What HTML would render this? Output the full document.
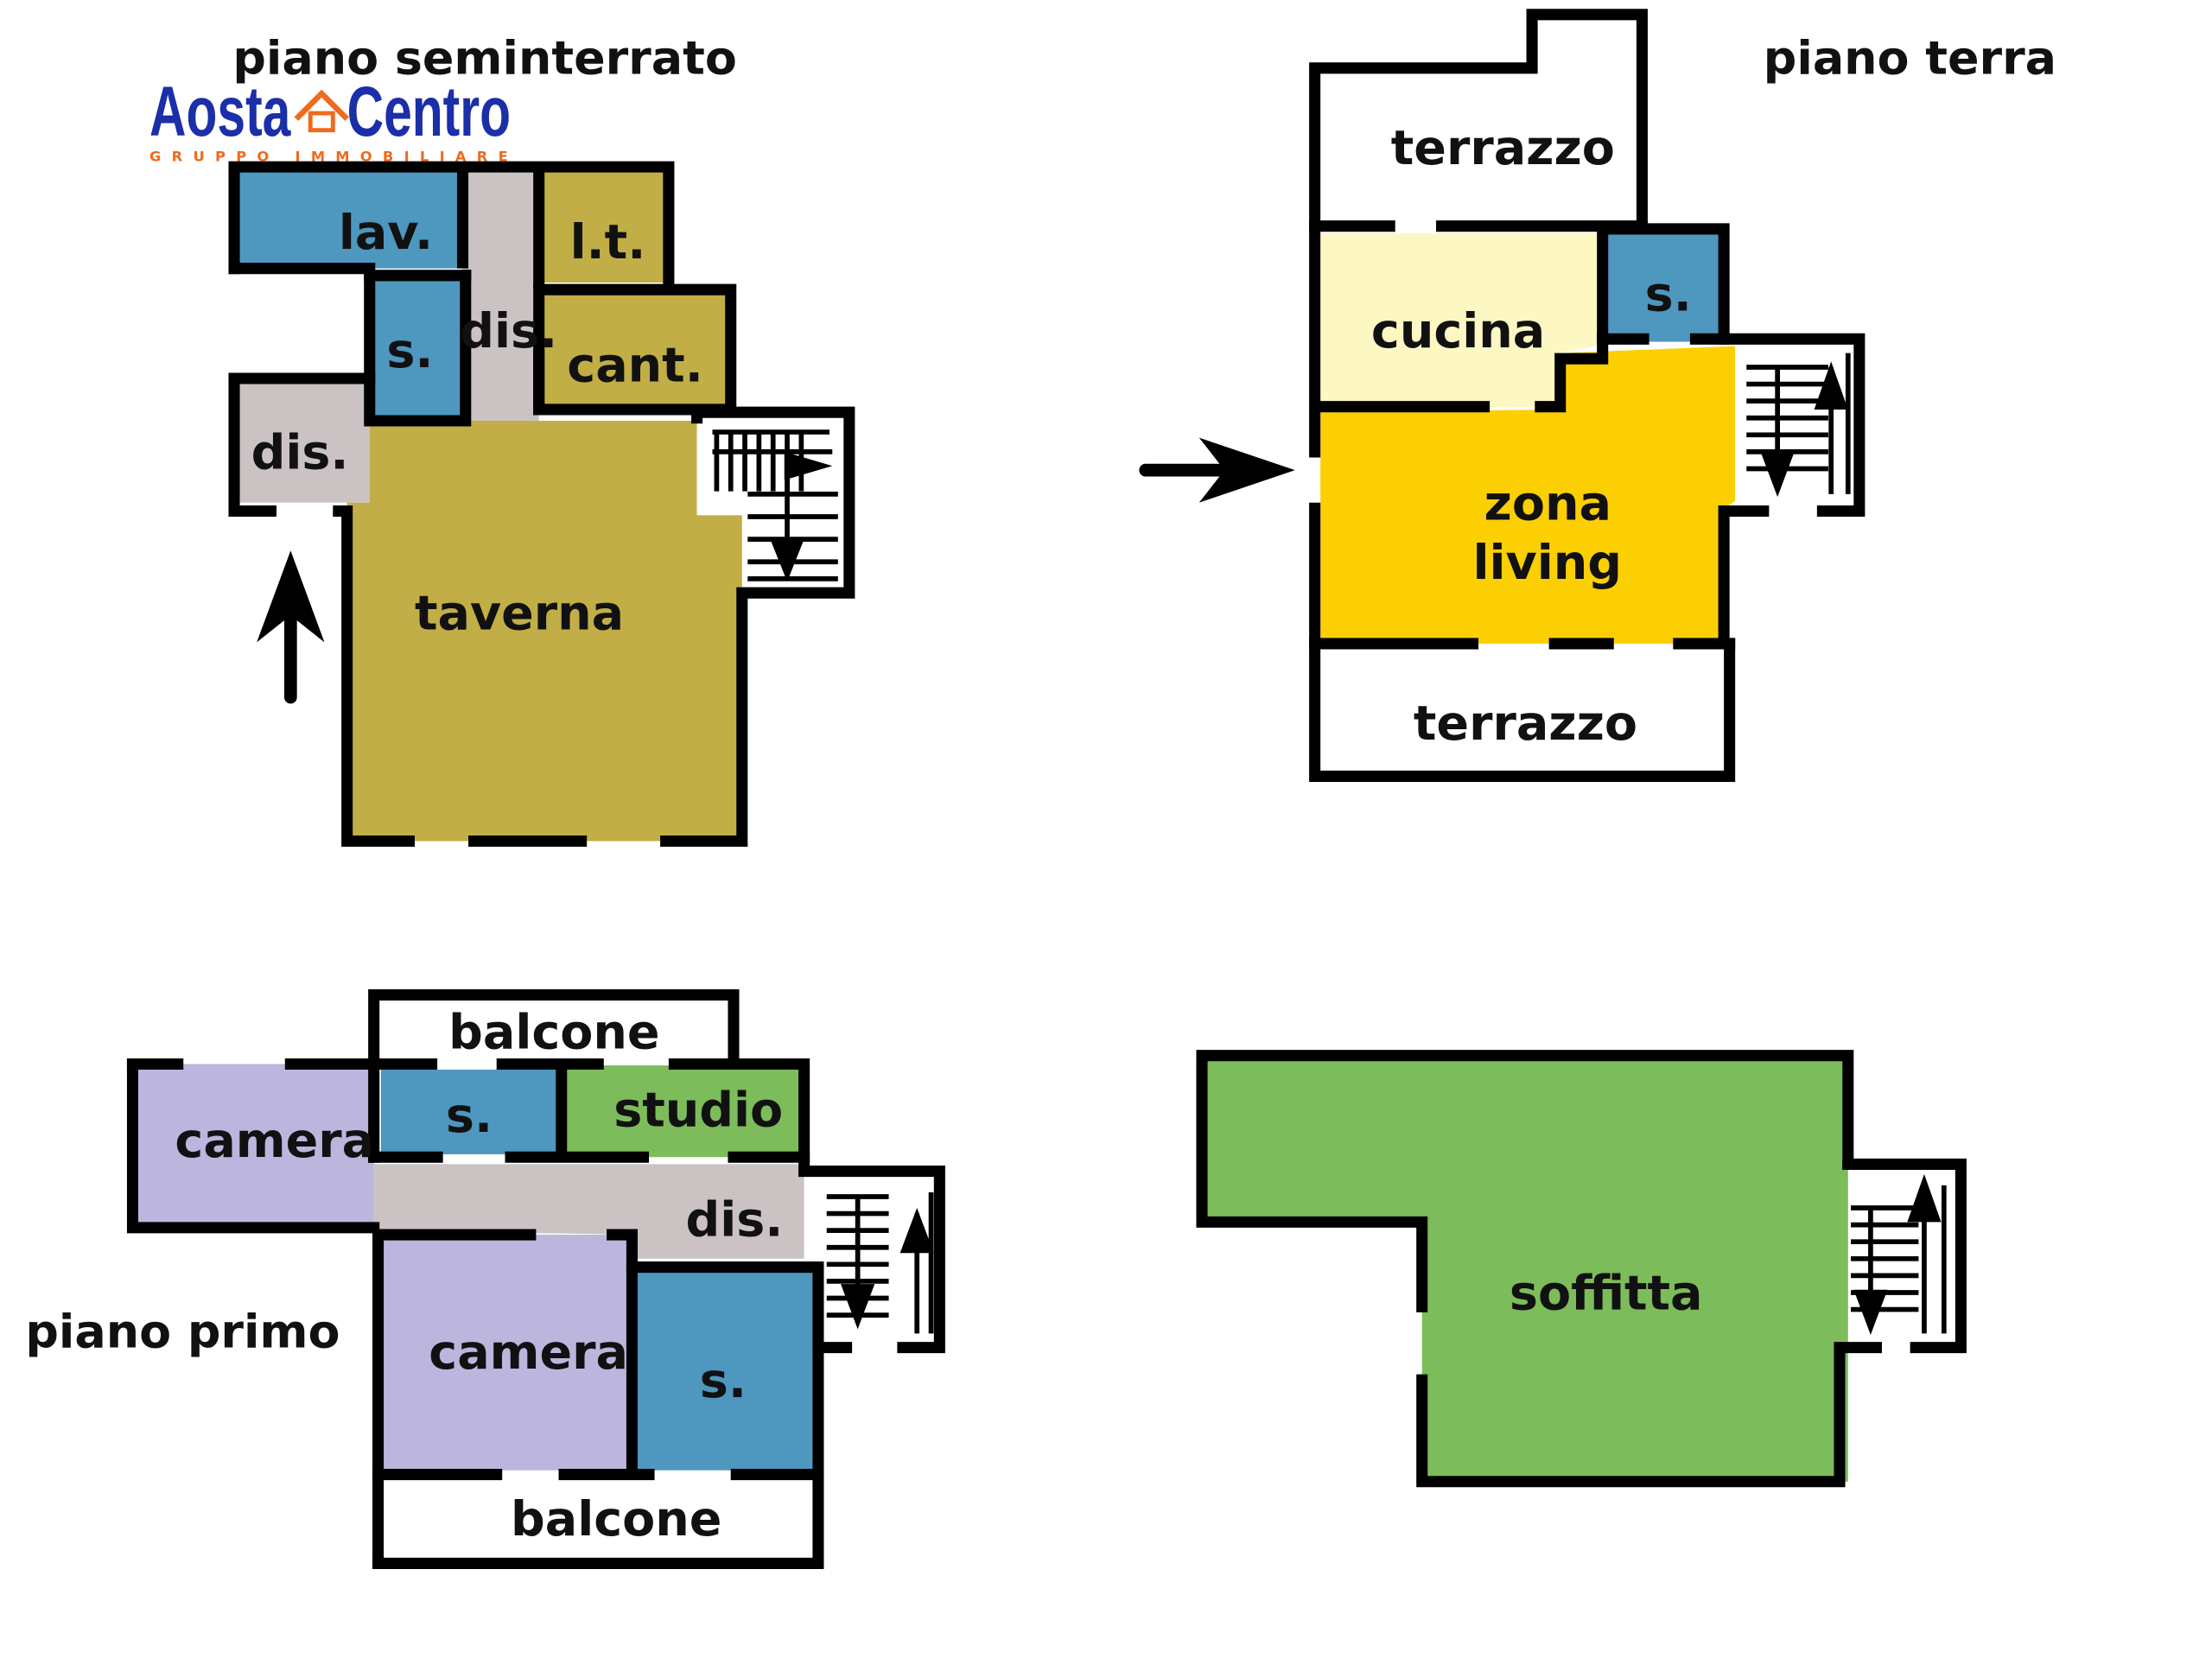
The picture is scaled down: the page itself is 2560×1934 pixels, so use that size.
<!DOCTYPE html>
<html><head><meta charset="utf-8"><style>
html,body{margin:0;padding:0;background:#fff;}
svg{display:block;}
text{font-family:"DejaVu Sans","Liberation Sans",sans-serif;font-weight:bold;fill:#111;}
</style></head><body>
<svg width="2560" height="1934" viewBox="0 0 1568 1184" xmlns="http://www.w3.org/2000/svg">
<rect width="1568" height="1184" fill="#fff"/>
<!-- ===== piano seminterrato fills ===== -->
<rect x="166" y="118" width="162" height="72" fill="#4e97bf"/>
<rect x="328" y="118" width="54" height="180" fill="#cbc3c3"/>
<rect x="382" y="118" width="92" height="82" fill="#c2ae47"/>
<rect x="382" y="205" width="136" height="85" fill="#c2ae47"/>
<rect x="262" y="195" width="66" height="103" fill="#4e97bf"/>
<rect x="166" y="268" width="96" height="88" fill="#cbc3c3"/>
<polygon points="246,298 494,298 494,365 526,365 526,596 246,596 246,356 262,356 262,298" fill="#c2ae47"/>
<g stroke="#000" stroke-width="8" fill="none" stroke-linecap="square" stroke-linejoin="miter">
<polyline points="166,190 166,118 474,118 474,200"/>
<line x1="166" y1="190" x2="262" y2="190"/>
<line x1="328" y1="122" x2="328" y2="186"/>
<line x1="382" y1="122" x2="382" y2="200"/>
<polyline points="262,195 262,298 330,298 330,195"/>
<line x1="330" y1="195" x2="262" y2="195"/>
<polyline points="382,205 518,205 518,290 382,290 382,205"/>
<line x1="382" y1="252" x2="382" y2="290"/>
<polyline points="166,268 262,268"/>
<polyline points="166,268 166,362 192,362"/>
<polyline points="240,362 246,362 246,596 290,596"/>
<line x1="336" y1="596" x2="412" y2="596"/>
<polyline points="472,596 526,596 526,420 602,420 602,292 494,292 494,296"/>
</g>
<g stroke="#000" stroke-width="3.5">
<line x1="505" y1="306" x2="588" y2="306"/>
<line x1="505" y1="320" x2="590" y2="320"/>
<line x1="508" y1="306" x2="508" y2="348"/><line x1="518" y1="306" x2="518" y2="348"/>
<line x1="528" y1="306" x2="528" y2="348"/><line x1="538" y1="306" x2="538" y2="348"/>
<line x1="548" y1="306" x2="548" y2="348"/><line x1="558" y1="306" x2="558" y2="348"/>
<line x1="568" y1="306" x2="568" y2="348"/>
<line x1="530" y1="350" x2="594" y2="350"/><line x1="530" y1="366" x2="594" y2="366"/>
<line x1="530" y1="382" x2="594" y2="382"/><line x1="530" y1="398" x2="594" y2="398"/>
<line x1="530" y1="410" x2="594" y2="410"/>
<line x1="558" y1="320" x2="558" y2="390"/>
</g>
<polygon points="556,320 590,330 556,340" fill="#000"/>
<polygon points="546,382 570,382 558,412" fill="#000"/>
<line x1="206" y1="494" x2="206" y2="420" stroke="#000" stroke-width="9" stroke-linecap="round"/>
<polygon points="182,455 206,390 230,455 206,436" fill="#000"/>
<text x="240" y="176" font-size="34">lav.</text>
<text x="404" y="183" font-size="34">l.t.</text>
<text x="326" y="246" font-size="34">dis.</text>
<text x="402" y="270" font-size="34">cant.</text>
<text x="274" y="260" font-size="34">s.</text>
<text x="178" y="332" font-size="34">dis.</text>
<text x="294" y="446" font-size="34">taverna</text>
<text x="165" y="52" font-size="33">piano seminterrato</text>
<!-- logo -->
<text x="106" y="96" font-size="50" textLength="100" lengthAdjust="spacingAndGlyphs" style="fill:#1a2fa8;font-family:'Liberation Sans',sans-serif">Aosta</text>
<text x="246" y="96" font-size="50" textLength="116" lengthAdjust="spacingAndGlyphs" style="fill:#1a2fa8;font-family:'Liberation Sans',sans-serif">Centro</text>
<polyline points="210,84 228,66 246,84" fill="none" stroke="#f06a1e" stroke-width="4"/>
<rect x="220" y="80" width="16" height="12" fill="none" stroke="#f06a1e" stroke-width="3"/>
<text x="106" y="114" font-size="10" textLength="254" style="fill:#f06a1e">GRUPPO IMMOBILIARE</text>

<!-- ===== piano terra ===== -->
<polygon points="936,165 1132,165 1132,245 1104,250 1104,288 936,290" fill="#fdf7c3"/>
<rect x="1136" y="162" width="86" height="80" fill="#4e97bf"/>
<polygon points="936,292 1104,290 1108,250 1230,245 1230,355 1222,360 1222,456 936,456" fill="#fccf03"/>
<g stroke="#000" stroke-width="8" fill="none" stroke-linecap="square">
<polyline points="932,158 932,48 1086,48 1086,10 1164,10 1164,158"/>
<line x1="932" y1="160" x2="985" y2="160"/>
<line x1="1022" y1="160" x2="1164" y2="160"/>
<polyline points="932,160 932,320"/>
<line x1="932" y1="360" x2="932" y2="456"/>
<line x1="936" y1="288" x2="1052" y2="288"/>
<polyline points="1092,288 1106,288 1106,254 1136,254 1136,162 1222,162 1222,240"/>
<line x1="1136" y1="240" x2="1165" y2="240"/>
<polyline points="1202,240 1318,240 1318,362 1292,362"/>
<polyline points="1250,362 1222,362 1222,456"/>
<line x1="932" y1="456" x2="1044" y2="456"/>
<line x1="1102" y1="456" x2="1140" y2="456"/>
<line x1="1190" y1="456" x2="1226" y2="456"/>
<polyline points="932,456 932,550 1226,550 1226,456"/>
</g>
<g stroke="#000" stroke-width="3.5">
<line x1="1238" y1="260" x2="1296" y2="260"/><line x1="1238" y1="272" x2="1296" y2="272"/>
<line x1="1238" y1="284" x2="1296" y2="284"/><line x1="1238" y1="296" x2="1296" y2="296"/>
<line x1="1238" y1="308" x2="1296" y2="308"/><line x1="1238" y1="320" x2="1296" y2="320"/>
<line x1="1238" y1="332" x2="1296" y2="332"/>
<line x1="1260" y1="260" x2="1260" y2="340"/><line x1="1298" y1="260" x2="1298" y2="350"/>
<line x1="1310" y1="250" x2="1310" y2="350"/>
</g>
<polygon points="1286,290 1298,256 1310,290" fill="#000"/>
<polygon points="1248,320 1272,320 1260,352" fill="#000"/>
<line x1="812" y1="333" x2="870" y2="333" stroke="#000" stroke-width="9" stroke-linecap="round"/>
<polygon points="850,310 918,333 850,356 868,333" fill="#000"/>
<text x="986" y="116" font-size="34">terrazzo</text>
<text x="972" y="246" font-size="34">cucina</text>
<text x="1166" y="220" font-size="34">s.</text>
<text x="1052" y="368" font-size="34">zona</text>
<text x="1044" y="410" font-size="34">living</text>
<text x="1002" y="524" font-size="34">terrazzo</text>
<text x="1250" y="52" font-size="33">piano terra</text>

<!-- ===== piano primo ===== -->
<polygon points="96,754 265,754 265,870 94,870" fill="#bcb6de"/>
<rect x="270" y="758" width="128" height="60" fill="#4e97bf"/>
<rect x="402" y="755" width="168" height="65" fill="#7dbc5a"/>
<polygon points="265,825 570,825 570,892 450,892 450,875 265,872" fill="#cbc3c3"/>
<polygon points="270,875 448,875 446,1042 270,1042" fill="#bcb6de"/>
<rect x="452" y="900" width="128" height="142" fill="#4e97bf"/>
<g stroke="#000" stroke-width="8" fill="none" stroke-linecap="square">
<polyline points="265,752 265,705 520,705 520,746"/>
<line x1="94" y1="754" x2="126" y2="754"/>
<line x1="206" y1="754" x2="306" y2="754"/>
<line x1="356" y1="754" x2="424" y2="754"/>
<polyline points="478,754 570,754 570,830 666,830 666,955 640,955"/>
<line x1="600" y1="955" x2="584" y2="955"/>
<polyline points="94,754 94,870 265,870"/>
<line x1="265" y1="754" x2="265" y2="820"/>
<line x1="398" y1="754" x2="398" y2="818"/>
<line x1="265" y1="820" x2="310" y2="820"/>
<line x1="362" y1="820" x2="456" y2="820"/>
<line x1="520" y1="820" x2="570" y2="820"/>
<line x1="270" y1="875" x2="376" y2="875"/>
<polyline points="434,875 448,875 448,1042"/>
<polyline points="448,898 580,898 580,1042"/>
<line x1="580" y1="955" x2="580" y2="900"/>
<line x1="268" y1="875" x2="268" y2="1108"/>
<line x1="268" y1="1045" x2="352" y2="1045"/>
<line x1="400" y1="1045" x2="460" y2="1045"/>
<line x1="522" y1="1045" x2="580" y2="1045"/>
<polyline points="268,1108 580,1108 580,1045"/>
</g>
<g stroke="#000" stroke-width="3.5">
<line x1="586" y1="848" x2="630" y2="848"/><line x1="586" y1="860" x2="630" y2="860"/>
<line x1="586" y1="872" x2="630" y2="872"/><line x1="586" y1="884" x2="630" y2="884"/>
<line x1="586" y1="896" x2="630" y2="896"/><line x1="586" y1="908" x2="630" y2="908"/>
<line x1="586" y1="920" x2="630" y2="920"/><line x1="586" y1="932" x2="630" y2="932"/>
<line x1="608" y1="848" x2="608" y2="930"/><line x1="650" y1="860" x2="650" y2="945"/>
<line x1="660" y1="845" x2="660" y2="945"/>
</g>
<polygon points="638,888 650,856 662,888" fill="#000"/>
<polygon points="596,910 620,910 608,942" fill="#000"/>
<text x="318" y="743" font-size="34">balcone</text>
<text x="124" y="820" font-size="34">camera</text>
<text x="316" y="802" font-size="34">s.</text>
<text x="435" y="798" font-size="34">studio</text>
<text x="486" y="876" font-size="34">dis.</text>
<text x="18" y="955" font-size="33">piano primo</text>
<text x="304" y="970" font-size="34">camera</text>
<text x="496" y="990" font-size="34">s.</text>
<text x="362" y="1088" font-size="34">balcone</text>

<!-- ===== soffitta ===== -->
<polygon points="852,748 1310,748 1310,1050 1008,1050 1008,866 852,866" fill="#7dbc5a"/>
<g stroke="#000" stroke-width="8" fill="none" stroke-linecap="square">
<polyline points="1310,825 1310,748 852,748 852,866 1008,866 1008,926"/>
<polyline points="1008,978 1008,1050 1304,1050 1304,955 1330,955"/>
<polyline points="1358,955 1390,955 1390,825 1310,825"/>
</g>
<g stroke="#000" stroke-width="3.5">
<line x1="1312" y1="856" x2="1360" y2="856"/><line x1="1312" y1="868" x2="1360" y2="868"/>
<line x1="1312" y1="880" x2="1360" y2="880"/><line x1="1312" y1="892" x2="1360" y2="892"/>
<line x1="1312" y1="904" x2="1360" y2="904"/><line x1="1312" y1="916" x2="1360" y2="916"/>
<line x1="1312" y1="928" x2="1360" y2="928"/>
<line x1="1326" y1="856" x2="1326" y2="930"/><line x1="1364" y1="860" x2="1364" y2="945"/>
<line x1="1378" y1="840" x2="1378" y2="945"/>
</g>
<polygon points="1352,866 1364,832 1376,866" fill="#000"/>
<polygon points="1314,914 1338,914 1326,946" fill="#000"/>
<text x="1070" y="928" font-size="34">soffitta</text>
</svg>
</body></html>
